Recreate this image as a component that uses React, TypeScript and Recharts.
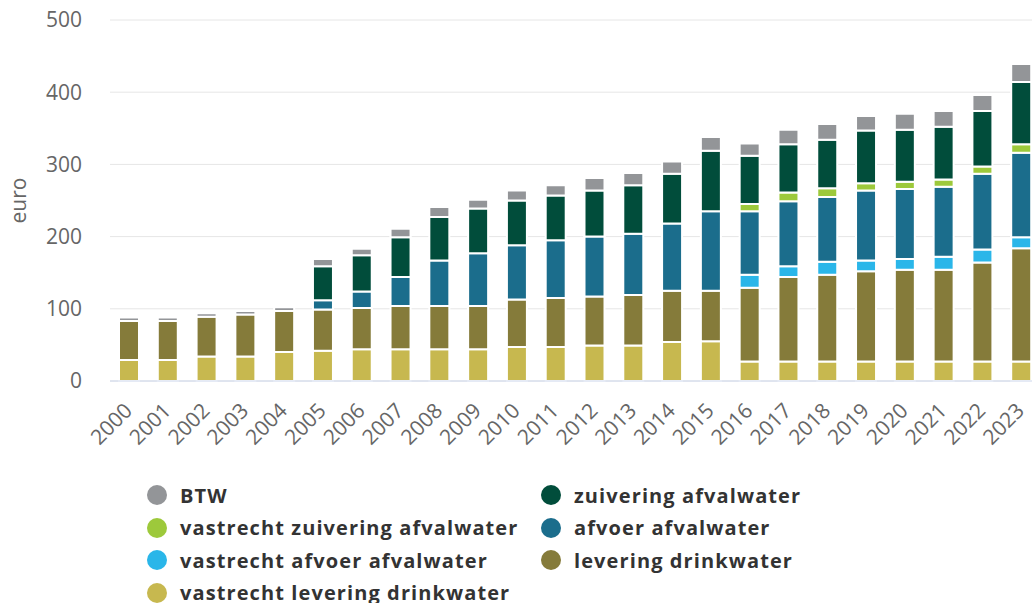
import { BarChart, Bar, XAxis, YAxis, CartesianGrid } from "recharts"

document.body.style.margin = "0"

const years = [
  "2000", "2001", "2002", "2003", "2004", "2005", "2006", "2007", "2008", "2009", "2010", "2011",
  "2012", "2013", "2014", "2015", "2016", "2017", "2018", "2019", "2020", "2021", "2022", "2023",
]

// stacked from bottom to top
const vastrechtLevering = [29, 29, 34, 34, 40, 42, 44, 44, 44, 44, 47, 47, 49, 49, 54, 55, 27, 27, 27, 27, 27, 27, 27, 27]
const levering = [54, 54, 55, 58, 57, 57, 57, 60, 60, 60, 66, 68, 68, 70, 71, 70, 102, 117, 120, 125, 127, 127, 137, 157]
const vastrechtAfvoer = [0, 0, 0, 0, 0, 0, 0, 0, 0, 0, 0, 0, 0, 0, 0, 0, 18, 15, 18, 15, 15, 18, 18, 15]
const afvoer = [0, 0, 0, 0, 0, 13, 23, 40, 63, 73, 75, 80, 83, 85, 93, 110, 88, 90, 90, 97, 97, 97, 105, 117]
const vastrechtZuivering = [0, 0, 0, 0, 0, 0, 0, 0, 0, 0, 0, 0, 0, 0, 0, 0, 10, 12, 12, 10, 10, 10, 10, 12]
const zuivering = [0, 0, 0, 0, 0, 47, 50, 55, 60, 62, 62, 62, 64, 67, 69, 84, 67, 67, 67, 73, 72, 73, 77, 86]
const btw = [5, 5, 5, 5, 5, 10, 9, 12, 14, 12, 14, 14, 17, 17, 17, 19, 17, 20, 22, 20, 22, 22, 22, 25]

const yTicks = [0, 100, 200, 300, 400, 500]

const series = [
  { key: "vastrechtLevering", name: "vastrecht levering drinkwater", color: "#c7b84f", values: vastrechtLevering },
  { key: "levering", name: "levering drinkwater", color: "#857b3a", values: levering },
  { key: "vastrechtAfvoer", name: "vastrecht afvoer afvalwater", color: "#2ab6e9", values: vastrechtAfvoer },
  { key: "afvoer", name: "afvoer afvalwater", color: "#1b6d8c", values: afvoer },
  { key: "vastrechtZuivering", name: "vastrecht zuivering afvalwater", color: "#9dc93b", values: vastrechtZuivering },
  { key: "zuivering", name: "zuivering afvalwater", color: "#014d3b", values: zuivering },
  { key: "btw", name: "BTW", color: "#939598", values: btw },
]

const data = years.map((year, i) => {
  const row: Record<string, string | number> = { year }
  series.forEach((s) => { row[s.key] = s.values[i] })
  return row
})

const XTick = ({ x, y, payload }: any) => (
  <g transform={`translate(${x + 4},${y + 31})`}>
    <text x={0} y={0} textAnchor="end" transform="rotate(-45)" fill="#666" fontSize={21}>
      {payload.value}
    </text>
  </g>
)

export default function App() {
  return (
    <div style={{ width: 1032, height: 603, overflow: "hidden", position: "relative", fontFamily: '"Open Sans", sans-serif' }}>
      <BarChart width={1049} height={461} data={data} margin={{ top: 20, right: 8, left: 8, bottom: 0 }}>
        <CartesianGrid vertical={false} stroke="#e6e6e6" />
        <XAxis
          dataKey="year"
          height={80}
          interval={0}
          tickLine={false}
          tickSize={0}
          tickMargin={0}
          axisLine={{ stroke: "#ccd6eb" }}
          tick={<XTick />}
        />
        <YAxis
          width={102}
          domain={[0, 500]}
          ticks={yTicks}
          axisLine={false}
          tickLine={false}
          tickSize={0}
          tickMargin={28}
          tick={{ fill: "#666", fontSize: 21 }}
          label={{ value: "euro", angle: -90, position: "center", dx: -40, fill: "#666", fontSize: 21 }}
        />
        {series.map((s) => (
          <Bar
            key={s.key}
            dataKey={s.key}
            name={s.name}
            stackId="a"
            fill={s.color}
            stroke="#fff"
            strokeWidth={2}
            barSize={20}
            isAnimationActive={false}
          />
        ))}
      </BarChart>
      <div
        style={{
          position: "absolute",
          left: 147,
          top: 479,
          display: "grid",
          gridTemplateColumns: "394px auto",
          gridAutoRows: "32.5px",
        }}
      >
        {[...series].reverse().map((s) => (
          <div key={s.key} style={{ display: "flex", alignItems: "center", whiteSpace: "nowrap" }}>
            <span style={{ width: 20, height: 20, borderRadius: 10, background: s.color, marginRight: 13, flexShrink: 0 }} />
            <span style={{ fontSize: 20, fontWeight: 700, color: "#333", letterSpacing: 1.1 }}>{s.name}</span>
          </div>
        ))}
      </div>
    </div>
  )
}
